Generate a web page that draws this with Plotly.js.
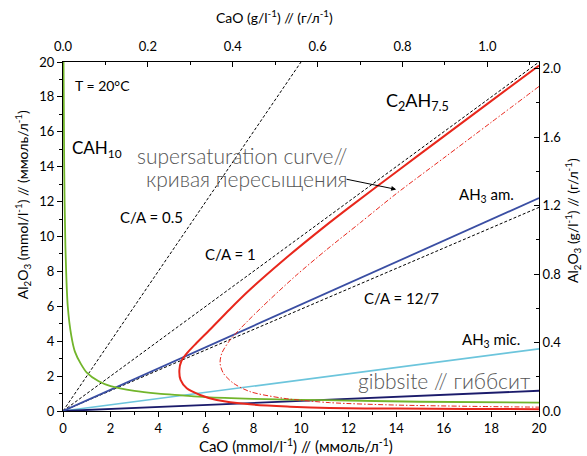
<!DOCTYPE html>
<html>
<head>
<meta charset="utf-8">
<script src="https://cdn.plot.ly/plotly-3.0.1.min.js"></script>
<style>html,body{margin:0;padding:0;background:#fff;}#chart{width:587px;height:456px;}</style>
</head>
<body>
<div id="chart"></div>
<script>
// CaO (mmol/l) values and Al2O3 (mmol/l) values
var cah10X = [0.02, 0.05, 0.1, 0.2, 0.35, 0.5, 0.75, 1.0, 1.5, 2.0, 3.0, 4.0, 5.0, 6.0, 8.0, 10.0, 12.0, 15.0, 20.0];
var cah10Y = [20.5, 14.0, 9.5, 6.0, 4.3, 3.4, 2.7, 2.2, 1.7, 1.42, 1.15, 1.0, 0.9, 0.8, 0.7, 0.64, 0.6, 0.53, 0.48];

var c2ahX = [20, 18, 16, 14, 12, 11, 9.26, 7.86, 7.0, 6.2, 5.6, 5.2, 4.97, 4.89, 4.94, 5.2, 5.76, 6.46, 7.86, 9.54, 11.2, 14, 17, 20];
var c2ahY = [19.8, 17.77, 15.74, 13.7, 11.64, 10.58, 8.64, 6.96, 5.82, 4.7, 3.88, 3.3, 2.85, 2.35, 1.78, 1.3, 0.92, 0.63, 0.38, 0.25, 0.17, 0.14, 0.12, 0.1];

var superX = [20, 18, 16, 14, 12.5, 11.08, 9.82, 8.7, 7.72, 7.02, 6.67, 6.6, 6.74, 7.16, 7.86, 9.26, 11.2, 14, 17, 20];
var superY = [18.6, 16.55, 14.5, 12.45, 10.8, 9.25, 7.8, 6.4, 5.1, 4.07, 3.3, 2.73, 2.16, 1.59, 1.11, 0.73, 0.48, 0.34, 0.27, 0.22];

var ah3AmX = [0, 20];
var ah3AmY = [0, 12.2];
var ah3MicX = [0, 20];
var ah3MicY = [0, 3.56];
var gibbsiteX = [0, 20];
var gibbsiteY = [0, 1.16];

// C/A molar-ratio reference lines
var ca05X = [0, 10];
var ca05Y = [0, 20];
var ca1X = [0, 20];
var ca1Y = [0, 20];
var ca127X = [0, 20];
var ca127Y = [0, 11.67];

// secondary-axis ranges (unit conversion of the 0-20 mmol/l range)
var caoGRange = [0, 20 * 0.05608];
var al2o3GRange = [0, 20 * 0.10196];

var FONT = 'Lato, "Open Sans", sans-serif';
var dotted = '3px,2px';

function line(x, y, color, width, dash) {
  return {x: x, y: y, type: 'scatter', mode: 'lines', hoverinfo: 'skip', showlegend: false,
          line: {color: color, width: width, dash: dash || 'solid', shape: 'spline', smoothing: 0.8}};
}

var traces = [
  line(ca05X, ca05Y, '#000', 1, dotted),
  line(ca1X, ca1Y, '#000', 1, dotted),
  line(ca127X, ca127Y, '#000', 1, dotted),
  line(ah3MicX, ah3MicY, '#6cc5dc', 1.6),
  line(gibbsiteX, gibbsiteY, '#1b1b6b', 1.8),
  line(ah3AmX, ah3AmY, '#3a4ea3', 1.8),
  line(cah10X, cah10Y, '#72b52b', 1.8),
  line(superX, superY, '#e8271c', 1, '5px,2px,1.5px,2px'),
  line(c2ahX, c2ahY, '#e8271c', 2),
  // carrier so the g/l axes are drawn
  {x: [caoGRange[0]], y: [al2o3GRange[0]], xaxis: 'x2', yaxis: 'y2', type: 'scatter', mode: 'markers',
   marker: {opacity: 0, size: 1}, hoverinfo: 'skip', showlegend: false}
];

function txt(x, y, text, opts) {
  var a = {x: x, y: y, xref: 'x', yref: 'y', text: text, showarrow: false,
           font: {family: FONT, size: 15, color: '#000'}, xanchor: 'center', yanchor: 'middle'};
  for (var k in opts) a[k] = opts[k];
  return a;
}
var grayFont = {family: FONT, size: 21, color: '#555', weight: 300};

var annotations = [
  txt(0.42, 18.68, 'T = 20°C', {xanchor: 'left', font: {family: FONT, size: 14, color: '#000'}}),
  txt(0.3, 15.0, 'CAH<sub>10</sub>', {xanchor: 'left', font: {family: FONT, size: 17, color: '#000'}}),
  txt(12.0, 14.67, 'supersaturation curve//', {xanchor: 'right', font: grayFont}),
  txt(12.05, 13.35, 'кривая пересыщения', {xanchor: 'right', font: grayFont}),
  txt(3.7, 11.13, 'C/A = 0.5'),
  txt(7.02, 9.0, 'C/A = 1'),
  txt(14.9, 17.75, 'C<sub>2</sub>AH<sub>7.5</sub>', {font: {family: FONT, size: 18, color: '#000'}}),
  txt(17.8, 12.38, 'AH<sub>3</sub> am.'),
  txt(14.23, 6.47, 'C/A = 12/7'),
  txt(18.0, 4.07, 'AH<sub>3</sub> mic.'),
  txt(16.04, 1.72, 'gibbsite // гиббсит', {font: grayFont}),
  {x: 14.0, y: 12.7, xref: 'x', yref: 'y', ax: 11.85, ay: 13.3, axref: 'x', ayref: 'y',
   text: '', showarrow: true, arrowhead: 2, arrowsize: 1, arrowwidth: 1, arrowcolor: '#000'},
  // axis titles
  {xref: 'paper', yref: 'paper', x: 0.49, y: -0.1, text: 'CaO (mmol/l<sup>-1</sup>) // (ммоль/л<sup>-1</sup>)',
   showarrow: false, font: {family: FONT, size: 15, color: '#000'}, xanchor: 'center', yanchor: 'middle'},
  {xref: 'paper', yref: 'paper', x: 0.445, y: 1.13, text: 'CaO (g/l<sup>-1</sup>) // (г/л<sup>-1</sup>)',
   showarrow: false, font: {family: FONT, size: 14, color: '#000'}, xanchor: 'center', yanchor: 'middle'},
  {xref: 'paper', yref: 'paper', x: -0.086, y: 0.59, text: 'Al<sub>2</sub>O<sub>3</sub> (mmol/l<sup>-1</sup>) // (ммоль/л<sup>-1</sup>)',
   showarrow: false, textangle: -90, font: {family: FONT, size: 14, color: '#000'}, xanchor: 'center', yanchor: 'middle'},
  {xref: 'paper', yref: 'paper', x: 1.072, y: 0.545, text: 'Al<sub>2</sub>O<sub>3</sub> (g/l<sup>-1</sup>) // (г/л<sup>-1</sup>)',
   showarrow: false, textangle: -90, font: {family: FONT, size: 14, color: '#000'}, xanchor: 'center', yanchor: 'middle'}
];

var axBase = {showgrid: false, zeroline: false, showline: true, linecolor: '#000', linewidth: 1,
              tickcolor: '#000', ticklen: 5, tickwidth: 1, tickfont: {family: FONT, size: 13, color: '#000'}};
function ax(o) { var a = JSON.parse(JSON.stringify(axBase)); for (var k in o) a[k] = o[k]; return a; }

var layout = {
  width: 587, height: 456,
  margin: {l: 63, r: 48, t: 62, b: 45},
  paper_bgcolor: '#fff', plot_bgcolor: '#fff',
  showlegend: false,
  xaxis: ax({range: [0, 20], dtick: 2, tick0: 0, ticks: 'outside',
             minor: {dtick: 1, ticks: 'outside', ticklen: 3, tickcolor: '#000'}}),
  yaxis: ax({range: [0, 20], dtick: 2, tick0: 0, ticks: 'outside',
             minor: {dtick: 1, ticks: 'outside', ticklen: 3, tickcolor: '#000'}}),
  xaxis2: ax({range: caoGRange, overlaying: 'x', side: 'top', anchor: 'y', dtick: 0.2, tick0: 0,
              tickformat: '.1f', ticks: 'inside', ticklabelstandoff: 5,
              minor: {dtick: 0.1, ticks: 'inside', ticklen: 3, tickcolor: '#000'}}),
  yaxis2: ax({range: al2o3GRange, overlaying: 'y', side: 'right', anchor: 'x', dtick: 0.4, tick0: 0,
              tickformat: '.1f', ticks: 'inside',
              minor: {dtick: 0.2, ticks: 'inside', ticklen: 3, tickcolor: '#000'}}),
  annotations: annotations
};

Plotly.newPlot('chart', traces, layout, {staticPlot: true, displayModeBar: false});
</script>
</body>
</html>
